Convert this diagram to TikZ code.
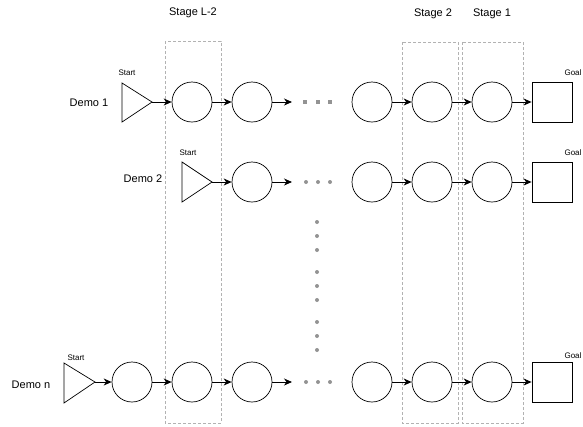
\documentclass[tikz,border=0pt]{standalone}
\usepackage{fontspec}
\setmainfont{Liberation Sans}
\usetikzlibrary{arrows.meta}
\tikzset{
  state/.style={draw,circle,minimum size=40pt,inner sep=0pt,line width=0.7pt},
  goalbox/.style={draw,minimum size=40pt,inner sep=0pt,line width=0.8pt},
  stagebox/.style={draw=gray!60,dash pattern=on 3pt off 2pt,line width=0.7pt},
  flow/.style={-{Stealth[length=8pt,width=7pt,inset=2.5pt]},line width=0.9pt},
  small/.style={font=\fontsize{8}{9}\selectfont,inner sep=0pt},
  label/.style={font=\fontsize{11}{13}\selectfont,inner sep=0pt},
  gdot/.style={fill=gray!85,draw=none},
}
\begin{document}
\begin{tikzpicture}[x=1pt,y=-1pt]
\useasboundingbox (0,0) rectangle (583,426);
% stages
\draw[stagebox] (165,41) rectangle (221,423);
\draw[stagebox] (402,42) rectangle (458,423);
\draw[stagebox] (462,42) rectangle (523,423);
\node[label] (stL) at (193,13) {Stage L-2};
\node[label] (st2) at (433,14) {Stage 2};
\node[label] (st1) at (492,14) {Stage 1};

% demo 1
\node[label] (d1) at (89,103) {Demo 1};
\draw[line width=0.7pt] (122,83) -- (152,102) -- (122,122) -- cycle;
\coordinate (s1) at (152,102);
\node[small] (s1t) at (127,73) {Start};
\node[state] (a1) at (192,102) {};
\node[state] (a2) at (252,102) {};
\coordinate (a2e) at (292,102);
\foreach \x in {305,318,330} \fill[gdot] (\x-2,100) rectangle (\x+2,104);
\node[state] (a3) at (372,102) {};
\node[state] (a4) at (432,102) {};
\node[state] (a5) at (492,102) {};
\node[goalbox] (g1) at (552,102) {};
\node[small] (g1t) at (573,73) {Goal};
\draw[flow] (s1) -- (a1);
\draw[flow] (a1) -- (a2);
\draw[flow] (a2) -- (a2e);
\draw[flow] (a3) -- (a4);
\draw[flow] (a4) -- (a5);
\draw[flow] (a5) -- (g1);

% demo 2
\node[label] (d2) at (143,179) {Demo 2};
\draw[line width=0.7pt] (182,162) -- (212,182) -- (182,202) -- cycle;
\coordinate (s2) at (212,182);
\node[small] (s2t) at (188,153) {Start};
\node[state] (b1) at (252,182) {};
\coordinate (b1e) at (292,182);
\foreach \x in {306,318,330} \fill[gdot] (\x,182) circle (2);
\node[state] (b2) at (372,182) {};
\node[state] (b3) at (432,182) {};
\node[state] (b4) at (492,182) {};
\node[goalbox] (g2) at (552,182) {};
\node[small] (g2t) at (573,153) {Goal};
\draw[flow] (s2) -- (b1);
\draw[flow] (b1) -- (b1e);
\draw[flow] (b2) -- (b3);
\draw[flow] (b3) -- (b4);
\draw[flow] (b4) -- (g2);

% vertical dots
\foreach \y in {222,236,250,272,286,300,322,336,350} \fill[gdot] (317,\y) circle (2);

% demo n
\node[label] (dn) at (31,385) {Demo n};
\draw[line width=0.7pt] (64,363) -- (95,382) -- (64,403) -- cycle;
\coordinate (sn) at (95,382);
\node[small] (snt) at (76,358) {Start};
\node[state] (c1) at (132,382) {};
\node[state] (c2) at (192,382) {};
\node[state] (c3) at (252,382) {};
\coordinate (c3e) at (292,382);
\foreach \x in {306,318,330} \fill[gdot] (\x,382) circle (2);
\node[state] (c4) at (372,382) {};
\node[state] (c5) at (432,382) {};
\node[state] (c6) at (492,382) {};
\node[goalbox] (gn) at (552,382) {};
\node[small] (gnt) at (573,356) {Goal};
\draw[flow] (sn) -- (c1);
\draw[flow] (c1) -- (c2);
\draw[flow] (c2) -- (c3);
\draw[flow] (c3) -- (c3e);
\draw[flow] (c4) -- (c5);
\draw[flow] (c5) -- (c6);
\draw[flow] (c6) -- (gn);
\end{tikzpicture}
\end{document}
